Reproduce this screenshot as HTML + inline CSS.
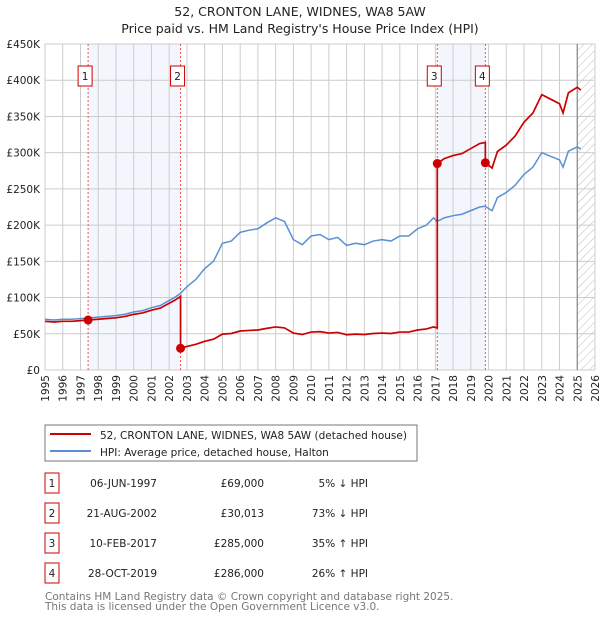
<!DOCTYPE html>
<html><head><meta charset="utf-8"><style>
body{margin:0;background:#fff;font-family:"DejaVu Sans","Liberation Sans",sans-serif;}
svg text{font-family:"DejaVu Sans","Liberation Sans",sans-serif;}
</style></head><body>
<svg id="c" width="600" height="620" xmlns="http://www.w3.org/2000/svg">
<defs><pattern id="hatch" width="6" height="6" patternUnits="userSpaceOnUse" patternTransform="rotate(45)"><line x1="0" y1="0" x2="0" y2="6" stroke="#bbb" stroke-width="1"/></pattern></defs>
<text x="300" y="16" text-anchor="middle" font-size="12.5" fill="#222">52, CRONTON LANE, WIDNES, WA8 5AW</text>
<text x="300" y="33" text-anchor="middle" font-size="12.5" fill="#222">Price paid vs. HM Land Registry's House Price Index (HPI)</text>
<g id="plot"></g>
<rect x="45" y="425" width="372" height="36" fill="#fff" stroke="#777"/>
<line x1="50" y1="434" x2="91" y2="434" stroke="#cc0000" stroke-width="2"/>
<text x="100" y="439" font-size="10.5" fill="#222">52, CRONTON LANE, WIDNES, WA8 5AW (detached house)</text>
<line x1="50" y1="451" x2="91" y2="451" stroke="#5b8fd4" stroke-width="2"/>
<text x="100" y="456" font-size="10.5" fill="#222">HPI: Average price, detached house, Halton</text>
<g id="table" font-size="10.5" fill="#222"></g>
<text x="45" y="600" font-size="10.5" fill="#777">Contains HM Land Registry data © Crown copyright and database right 2025.</text>
<text x="45" y="610" font-size="10.5" fill="#777">This data is licensed under the Open Government Licence v3.0.</text>
</svg>
<script>
const hpiYears=[1995,1995.5,1996,1996.5,1997,1997.5,1998,1998.5,1999,1999.5,2000,2000.5,2001,2001.5,2002,2002.3,2002.6,2003,2003.5,2004,2004.5,2005,2005.5,2006,2006.5,2007,2007.5,2008,2008.5,2009,2009.5,2010,2010.5,2011,2011.5,2012,2012.5,2013,2013.5,2014,2014.5,2015,2015.5,2016,2016.5,2016.9,2017.1,2017.5,2018,2018.5,2019,2019.5,2019.8,2020.2,2020.5,2021,2021.5,2022,2022.5,2023,2023.5,2024,2024.2,2024.5,2025,2025.2];
const hpiValues=[70,69,70,70,71,72,73,74,75,77,80,82,86,89,96,100,105,115,125,140,150,175,178,190,193,195,203,210,205,180,173,185,187,180,183,172,175,173,178,180,178,185,185,195,200,210,205,210,213,215,220,225,226,220,238,245,255,270,280,300,295,290,280,302,308,305];
const saleLabels=["1","2","3","4"];
const saleYears=[1997.43,2002.64,2017.11,2019.82];
const salePrices=[69000,30013,285000,286000];
const saleDates=["06-JUN-1997","21-AUG-2002","10-FEB-2017","28-OCT-2019"];
const salePriceText=["£69,000","£30,013","£285,000","£286,000"];
const saleHpiText=["5% ↓ HPI","73% ↓ HPI","35% ↑ HPI","26% ↑ HPI"];
const yTicks=[0,50,100,150,200,250,300,350,400,450];
const yTickLabels=["£0","£50K","£100K","£150K","£200K","£250K","£300K","£350K","£400K","£450K"];
const xTicks=[1995,1996,1997,1998,1999,2000,2001,2002,2003,2004,2005,2006,2007,2008,2009,2010,2011,2012,2013,2014,2015,2016,2017,2018,2019,2020,2021,2022,2023,2024,2025,2026];
const dataEnd=2025.0;

const X0=45,X1=595,Y0=370,Y1=44;
const xs=t=>X0+(t-1995)/31*(X1-X0);
const ys=v=>Y0-v/450*(Y0-Y1);
const NS="http://www.w3.org/2000/svg";
const plot=document.getElementById('plot');
function mk(tag,attrs,parent){const e=document.createElementNS(NS,tag);for(const k in attrs)e.setAttribute(k,attrs[k]);(parent||plot).appendChild(e);return e;}
function hpiAt(t){for(let i=1;i<hpiYears.length;i++){if(t<=hpiYears[i]){const f=(t-hpiYears[i-1])/(hpiYears[i]-hpiYears[i-1]);return hpiValues[i-1]+f*(hpiValues[i]-hpiValues[i-1]);}}return hpiValues[hpiValues.length-1];}

[[0,1],[2,3]].forEach(([a,b])=>{
 const r=mk('rect',{x:xs(saleYears[a]),y:Y1,width:xs(saleYears[b])-xs(saleYears[a]),height:Y0-Y1,fill:'#f3f6fd'});
 
 
});
const h=mk('rect',{x:xs(dataEnd),y:Y1,width:X1-xs(dataEnd),height:Y0-Y1,fill:'url(#hatch)'});


xTicks.forEach((t,i)=>{
 const l=mk('line',{x1:xs(t),x2:xs(t),y1:Y1,y2:Y0,stroke:'#ccc','stroke-width':1});
 
 
 const tx=mk('text',{x:0,y:0,transform:`translate(${xs(t)+4},${Y0+5}) rotate(-90)`,'text-anchor':'end','font-size':'10.5',fill:'#222'});
 tx.textContent=t;
 
 
});
yTicks.forEach((v,i)=>{
 const l=mk('line',{x1:X0,x2:X1,y1:ys(v),y2:ys(v),stroke:'#ccc','stroke-width':1});
 
 
 const tx=mk('text',{x:40,y:ys(v)+4,'text-anchor':'end','font-size':'10.5',fill:'#222'});
 tx.textContent=yTickLabels[i];
 
 
});
const dl=mk('line',{x1:xs(dataEnd),x2:xs(dataEnd),y1:Y1,y2:Y0,stroke:'#888','stroke-width':1.2});


saleYears.forEach((t,i)=>{
 const l=mk('line',{x1:xs(t),x2:xs(t),y1:Y1,y2:Y0,stroke:'#e55','stroke-width':1,'stroke-dasharray':'2,2'});
 
 
 const b=mk('rect',{x:xs(t)-10,y:66,width:14,height:20,fill:'#fff',stroke:'#cc0000'});
 
 
 const tx=mk('text',{x:xs(t)-3,y:80,'text-anchor':'middle','font-size':'10.5',fill:'#222'});
 tx.textContent=saleLabels[i];
 
 
});
const hp=mk('polyline',{points:hpiYears.map((t,i)=>xs(t)+','+ys(hpiValues[i])).join(' '),fill:'none',stroke:'#5b8fd4','stroke-width':1.5});


const factors=saleYears.map((t,i)=>salePrices[i]/1000/hpiAt(t));
const pts=[];
let seg=0;
const fac=s=>factors[Math.max(0,s)];
hpiYears.forEach((t,i)=>{
 while(seg<saleYears.length&&t>saleYears[seg]){
  const ts=saleYears[seg];
  if(seg>0)pts.push([ts,hpiAt(ts)*fac(seg-1)]);
  pts.push([ts,salePrices[seg]/1000]);
  seg++;
 }
 pts.push([t,hpiValues[i]*fac(seg-1)]);
});
const pp=mk('polyline',{points:pts.map(p=>xs(p[0])+','+ys(p[1])).join(' '),fill:'none',stroke:'#cc0000','stroke-width':1.7});


saleYears.forEach((t,i)=>{
 const c=mk('circle',{cx:xs(t),cy:ys(salePrices[i]/1000),r:4.5,fill:'#cc0000'});
 
 
});
const tb=document.getElementById('table');
saleYears.forEach((t,i)=>{
 const y=483+i*30;
 const b=mk('rect',{x:45,y:y-10,width:14,height:20,fill:'#fff',stroke:'#cc0000'},tb);
 
 
 const cells=[[52,'middle',saleLabels[i]],[157,'end',saleDates[i]],[264,'end',salePriceText[i]],[368,'end',saleHpiText[i]]];
 cells.forEach(c=>{
  const tx=mk('text',{x:c[0],y:y+4,'text-anchor':c[1]},tb);
  tx.textContent=c[2];
  
  
 });
});
</script>
</body></html>
